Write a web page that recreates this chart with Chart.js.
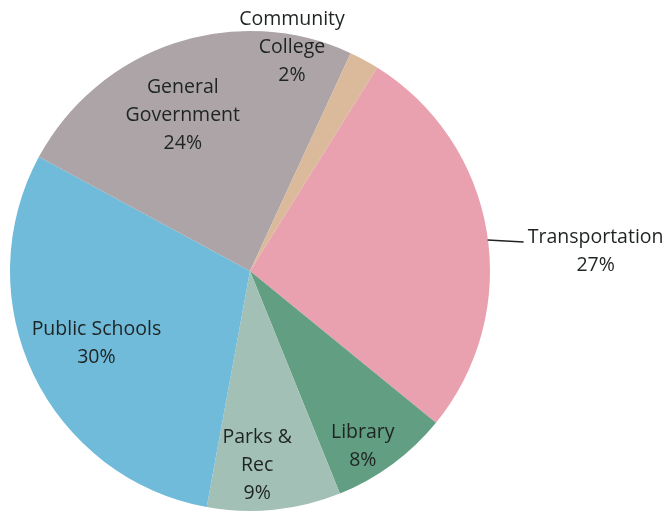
<!DOCTYPE html>
<html>
<head>
<meta charset="utf-8">
<script src="https://cdn.jsdelivr.net/npm/chart.js@4.4.0/dist/chart.umd.min.js"></script>
<style>
  html, body { margin: 0; padding: 0; background: #fff; }
  #wrap { width: 666px; height: 516px; }
</style>
</head>
<body>
<div id="wrap"><canvas id="pie" width="666" height="516"></canvas></div>
<script>
const categories = ["Transportation", "Library", "Parks & Rec", "Public Schools", "General Government", "Community College"];
const shares = [27, 8, 9, 30, 24, 2];
const labelLines = [["Transportation"], ["Library"], ["Parks &", "Rec"], ["Public Schools"], ["General", "Government"], ["Community", "College"]];
const sliceColors = ["#e9a0af", "#619e82", "#a3c0b7", "#70bada", "#aca4a7", "#dbb99b"];

// label anchors, relative to the pie centre in units of radius
const labelAnchors = [[1.44, -0.08], [0.47, 0.73], [0.03, 0.81], [-0.64, 0.30], [-0.28, -0.65], [0.175, -0.93]];

const pieLabels = {
  id: 'pieLabels',
  afterDatasetsDraw(chart) {
    const ctx = chart.ctx;
    const arcs = chart.getDatasetMeta(0).data;
    const cx = arcs[0].x, cy = arcs[0].y, r = arcs[0].outerRadius;
    ctx.save();
    ctx.font = '500 19.5px "Open Sans", Lato, sans-serif';
    ctx.fillStyle = '#1e2422';
    ctx.textAlign = 'center';
    ctx.textBaseline = 'middle';
    const lh = 28;
    categories.forEach((c, i) => {
      const lines = labelLines[i].concat([shares[i] + '%']);
      const x = cx + labelAnchors[i][0] * r;
      const y = cy + labelAnchors[i][1] * r;
      const top = y - (lines.length - 1) * lh / 2;
      lines.forEach((t, j) => ctx.fillText(t, x, top + j * lh));
    });
    // leader line for Transportation
    ctx.strokeStyle = '#222';
    ctx.lineWidth = 1.5;
    ctx.beginPath();
    ctx.moveTo(cx + r * 0.99, cy - 31);
    ctx.lineTo(cx + r * 1.14, cy - 29);
    ctx.stroke();
    ctx.restore();
  }
};

new Chart(document.getElementById("pie"), {
  type: 'pie',
  data: {
    labels: categories,
    datasets: [{
      data: shares,
      backgroundColor: sliceColors,
      borderWidth: 0
    }]
  },
  options: {
    responsive: false,
    animation: false,
    rotation: 32,
    layout: { padding: { left: 10, right: 176, top: 31, bottom: 5 } },
    plugins: { legend: { display: false }, tooltip: { enabled: false } }
  },
  plugins: [pieLabels]
});
</script>
</body>
</html>
